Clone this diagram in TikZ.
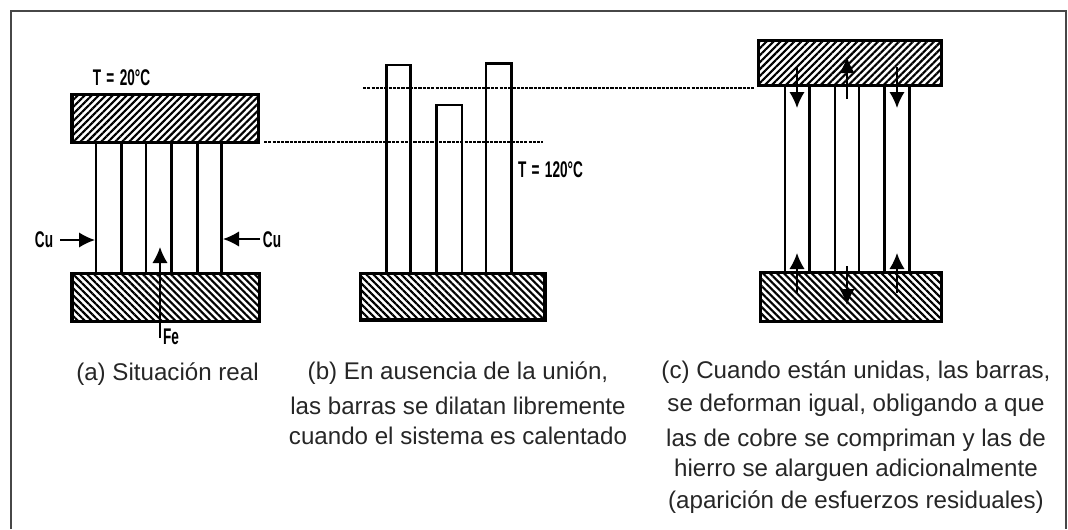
\documentclass[tikz,border=0pt]{standalone}
\usepackage{fontspec}
\setmainfont{Liberation Sans}
\newfontfamily\narrowfont[FakeStretch=0.6]{Liberation Sans Bold}
\usetikzlibrary{arrows.meta, patterns.meta}
\tikzset{
	medida/.style 2 args={minimum width=#1*0.75pt, minimum height=#2*0.75pt},
	barra/.style={draw=black, line width=2.2pt, inner sep=0pt, outer sep=0pt, anchor=south west},
	bloque/.style={draw=black, line width=2.4pt, inner sep=0pt, outer sep=0pt, anchor=north west},
	rayasup/.style={bloque, pattern={Lines[angle=45,distance=3.7pt,line width=1.6pt]}},
	rayainf/.style={bloque, pattern={Lines[angle=-45,distance=3.7pt,line width=1.6pt]}},
	nivel/.style={dash pattern=on 2.4pt off 0.8pt, line width=0.8pt},
	flecha/.style={-{Latex[length=12pt,width=11.5pt]}, line width=1.3pt},
	etiqueta/.style={font=\narrowfont\fontsize{17}{19}\selectfont, inner sep=0pt, execute at begin node={\spaceskip=4pt }},
	leyenda/.style={font=\fontsize{18.1}{22.5}\selectfont, text=black!85, align=center, inner sep=0pt}
}
\begin{document}
\begin{tikzpicture}[x=0.75pt, y=-0.75pt]

	% --- Marco
	\useasboundingbox (0,0) rectangle (1068,529);
	\draw[line width=1.6pt, draw=black!72] (11,529) -- (11,11) -- (1066,11) -- (1066,529);

	% --- (a) Situacion real
	\foreach \xa/\nom/\anc in {96/a1/25.7, 146/a2/25.7, 197.3/a3/24}
		\node[barra, medida={\anc}{130}] (\nom) at (\xa,273) {};
	\node[rayasup, medida={186.5}{48.2}] (supA) at (72,94.5) {};
	\node[rayainf, medida={187.7}{48.4}] (infA) at (72,273.3) {};
	\node[etiqueta] (t20) at (121.5,78) {T = 20°C};
	\node[etiqueta] (cuI) at (44,240) {Cu};
	\node[etiqueta] (cuD) at (272,240) {Cu};
	\node[etiqueta] (fe) at (171,337) {Fe};

	% Flechas de (a)
	\coordinate (cuIa) at (60,240);
	\coordinate (cuIb) at (95,240);
	\coordinate (cuDa) at (260,239);
	\coordinate (cuDb) at (223,239);
	\coordinate (feA) at (160,338);
	\coordinate (feB) at (160,247);
	\draw[flecha] (cuIa) -- (cuIb);
	\draw[flecha] (cuDa) -- (cuDb);
	\draw[flecha] (feA) -- (feB);

	% --- (b) Barras libres
	\node[barra, medida={24}{208}] (b1) at (386.7,273) {};
	\node[barra, medida={25.3}{168}] (b2) at (436.7,273) {};
	\node[barra, medida={25.7}{209.7}] (b3) at (486,273) {};
	\node[rayainf, medida={184.3}{46.7}] (infB) at (360.7,273.3) {};
	\node[etiqueta] (t120) at (550.5,170) {T = 120°C};

	% --- (c) Barras unidas
	\foreach \xa/\nom/\anc in {785/c1/24.3, 835/c2/24, 884.7/c3/24.6}
		\node[barra, medida={\anc}{186.5}] (\nom) at (\xa,272.3) {};
	\node[rayasup, medida={183}{45}] (supC) at (758.7,40.7) {};
	\node[rayainf, medida={181}{49.4}] (infC) at (760.7,272.3) {};

	% Flechas de (c)
	\coordinate (c1a) at (797,67);
	\coordinate (c1b) at (797,108);
	\coordinate (c2a) at (847,99);
	\coordinate (c2b) at (847,57);
	\coordinate (c3a) at (897,67);
	\coordinate (c3b) at (897,108);
	\coordinate (c4a) at (797,293);
	\coordinate (c4b) at (797,253);
	\coordinate (c5a) at (847,266);
	\coordinate (c5b) at (847,305);
	\coordinate (c6a) at (897,293);
	\coordinate (c6b) at (897,253);
	\foreach \ini/\fin in {c1a/c1b, c2a/c2b, c3a/c3b, c4a/c4b, c5a/c5b, c6a/c6b}
		\draw[flecha] (\ini) -- (\fin);

	% --- Niveles
	\coordinate (n1a) at (264,142);
	\coordinate (n1b) at (543,142);
	\coordinate (n2a) at (363,88);
	\coordinate (n2b) at (755,88);
	\draw[nivel] (n1a) -- (n1b);
	\draw[nivel] (n2a) -- (n2b);

	% --- Leyendas
	\node[leyenda] (leyA) at (167.5,374) {(a) Situación real};
	\node[leyenda] (leyB) at (458,403) {(b) En ausencia de la unión,\\[3.7pt]las barras se dilatan libremente\\cuando el sistema es calentado};
	\node[leyenda] (leyC) at (856,437) {(c) Cuando están unidas, las barras,\\[2.2pt]se deforman igual, obligando a que\\[3.7pt]las de cobre se compriman y las de\\hierro se alarguen adicionalmente\\[1.5pt](aparición de esfuerzos residuales)};

\end{tikzpicture}
\end{document}
